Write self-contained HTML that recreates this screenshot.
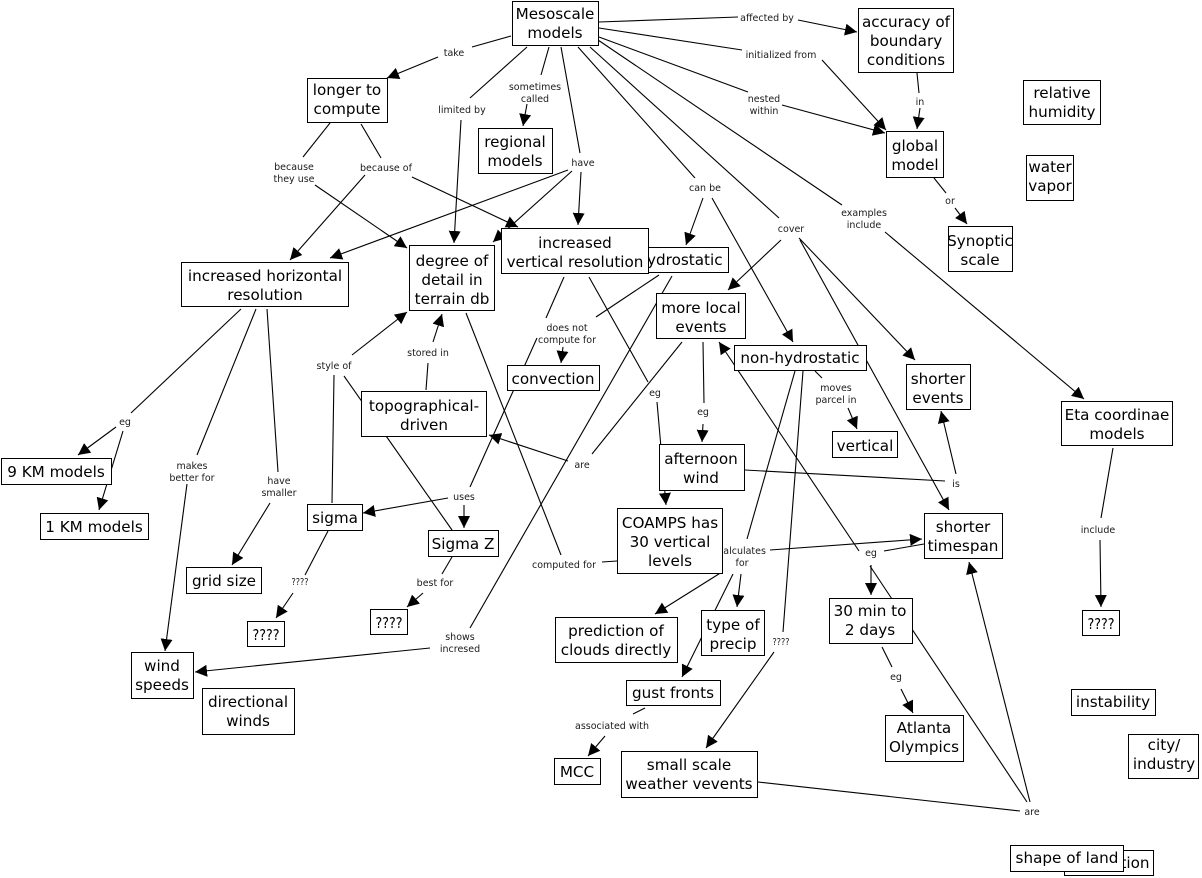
<!DOCTYPE html>
<html><head><meta charset="utf-8"><style>
html,body{margin:0;padding:0;background:#fff}
svg{display:block}
.l line,line{stroke:#000;stroke-width:1.1;fill:none}
.a{marker-end:url(#h)}
rect{fill:#fff;stroke:#000;stroke-width:1.2;shape-rendering:crispEdges}
text{font-family:"DejaVu Sans","Liberation Sans",sans-serif;text-anchor:middle;fill:#000}
.n text{font-size:15.2px}
.t text{font-size:9.5px;fill:#1a1a1a}
</style></head><body>
<svg width="1202" height="878" viewBox="0 0 1202 878" xmlns="http://www.w3.org/2000/svg">
<defs><marker id="h" markerUnits="userSpaceOnUse" markerWidth="12" markerHeight="12" refX="12" refY="6" orient="auto"><path d="M0 0L12 6L0 12z" fill="#000"/></marker></defs>
<g class="l">
<line x1="599" y1="22" x2="738" y2="17"/><line class="a" x1="798" y1="20" x2="857" y2="32"/>
<line x1="599" y1="28" x2="742" y2="50"/><line class="a" x1="822" y1="60" x2="886" y2="130"/>
<line x1="599" y1="37" x2="748" y2="92"/><line class="a" x1="782" y1="105" x2="885" y2="133"/>
<line x1="511" y1="36" x2="472" y2="47"/><line class="a" x1="438" y1="57" x2="387" y2="78"/>
<line x1="527" y1="47" x2="470" y2="98"/><line class="a" x1="461" y1="120" x2="454" y2="243"/>
<line x1="549" y1="47" x2="541" y2="75"/><line class="a" x1="527" y1="104" x2="523" y2="126"/>
<line x1="561" y1="47" x2="580" y2="153"/>
<line class="a" x1="581" y1="172" x2="578" y2="225"/>
<line class="a" x1="568" y1="170" x2="330" y2="258"/>
<line class="a" x1="572" y1="171" x2="493" y2="242"/>
<line class="a" x1="412" y1="177" x2="518" y2="227"/>
<line x1="330" y1="123" x2="303" y2="157"/><line class="a" x1="315" y1="185" x2="407" y2="248"/>
<line x1="361" y1="124" x2="381" y2="158"/><line class="a" x1="365" y1="175" x2="290" y2="260"/>
<line x1="578" y1="47" x2="695" y2="178"/>
<line class="a" x1="703" y1="198" x2="686" y2="245"/><line class="a" x1="712" y1="198" x2="793" y2="342"/>
<line x1="590" y1="47" x2="779" y2="218"/>
<line class="a" x1="781" y1="240" x2="728" y2="290"/><line class="a" x1="799" y1="238" x2="915" y2="360"/><line class="a" x1="800" y1="240" x2="949" y2="510"/>
<line x1="598" y1="40" x2="842" y2="205"/><line class="a" x1="885" y1="232" x2="1084" y2="399"/>
<line x1="917" y1="73" x2="919" y2="93"/><line class="a" x1="920" y1="108" x2="917" y2="129"/>
<line x1="934" y1="178" x2="946" y2="193"/><line class="a" x1="955" y1="208" x2="967" y2="224"/>
<line x1="564" y1="277" x2="546" y2="318"/><line class="a" x1="563" y1="347" x2="561" y2="363"/>
<line x1="659" y1="275" x2="596" y2="317"/>
<line x1="537" y1="338" x2="470" y2="487"/>
<line class="a" x1="448" y1="498" x2="363" y2="513"/><line class="a" x1="464" y1="505" x2="464" y2="528"/>
<line x1="672" y1="276" x2="470" y2="628"/><line class="a" x1="430" y1="648" x2="195" y2="672"/>
<line x1="589" y1="277" x2="648" y2="382"/><line class="a" x1="657" y1="402" x2="666" y2="505"/>
<line x1="682" y1="342" x2="592" y2="454"/><line class="a" x1="568" y1="461" x2="489" y2="435"/>
<line x1="703" y1="342" x2="704" y2="403"/><line class="a" x1="703" y1="424" x2="702" y2="442"/>
<line x1="466" y1="313" x2="561" y2="555"/><line x1="602" y1="562" x2="617" y2="561"/>
<line x1="426" y1="390" x2="428" y2="363"/><line class="a" x1="433" y1="342" x2="442" y2="314"/>
<line x1="332" y1="503" x2="334" y2="375"/><line class="a" x1="352" y1="355" x2="407" y2="312"/><line x1="344" y1="376" x2="452" y2="530"/>
<line x1="241" y1="309" x2="131" y2="413"/><line class="a" x1="116" y1="427" x2="78" y2="455"/><line class="a" x1="123" y1="431" x2="99" y2="510"/>
<line x1="256" y1="309" x2="197" y2="455"/><line class="a" x1="187" y1="484" x2="165" y2="651"/>
<line x1="267" y1="309" x2="278" y2="472"/><line class="a" x1="270" y1="503" x2="232" y2="565"/>
<line x1="328" y1="531" x2="305" y2="575"/><line class="a" x1="293" y1="593" x2="276" y2="618"/>
<line x1="452" y1="557" x2="442" y2="574"/><line class="a" x1="423" y1="593" x2="407" y2="607"/>
<line x1="815" y1="371" x2="822" y2="378"/><line class="a" x1="848" y1="408" x2="857" y2="429"/>
<line x1="795" y1="371" x2="747" y2="539"/>
<line x1="803" y1="371" x2="783" y2="632"/><line class="a" x1="774" y1="652" x2="706" y2="748"/>
<line class="a" x1="770" y1="550" x2="922" y2="539"/><line x1="884" y1="551" x2="924" y2="544"/>
<line class="a" x1="722" y1="572" x2="655" y2="614"/>
<line class="a" x1="741" y1="574" x2="737" y2="607"/>
<line class="a" x1="733" y1="574" x2="682" y2="677"/>
<line x1="645" y1="708" x2="633" y2="714"/><line class="a" x1="605" y1="736" x2="588" y2="756"/>
<line x1="745" y1="470" x2="945" y2="481"/><line class="a" x1="956" y1="474" x2="941" y2="411"/>
<line class="a" x1="871" y1="565" x2="871" y2="595"/>
<line x1="758" y1="782" x2="1020" y2="811"/>
<line class="a" x1="1030" y1="802" x2="969" y2="562"/>
<line x1="1027" y1="802" x2="870" y2="566"/><line class="a" x1="859" y1="551" x2="719" y2="342"/>
<line x1="1113" y1="448" x2="1101" y2="518"/><line class="a" x1="1100" y1="540" x2="1101" y2="607"/>
<line x1="882" y1="647" x2="892" y2="667"/><line class="a" x1="901" y1="689" x2="913" y2="713"/>
</g>
<g class="t">
<text x="767" y="21">affected by</text>
<text x="781" y="58">initialized from</text>
<text x="764" y="102">nested</text><text x="764" y="114">within</text>
<text x="454" y="56">take</text>
<text x="462" y="113">limited by</text>
<text x="535" y="90">sometimes</text><text x="535" y="102">called</text>
<text x="583" y="166">have</text>
<text x="294" y="170">because</text><text x="294" y="182">they use</text>
<text x="386" y="171">because of</text>
<text x="705" y="191">can be</text>
<text x="791" y="232">cover</text>
<text x="864" y="216">examples</text><text x="864" y="228">include</text>
<text x="920" y="105">in</text>
<text x="950" y="204">or</text>
<text x="567" y="331">does not</text><text x="567" y="343">compute for</text>
<text x="428" y="356">stored in</text>
<text x="334" y="369">style of</text>
<text x="125" y="425">eg</text>
<text x="655" y="396">eg</text>
<text x="703" y="415">eg</text>
<text x="582" y="468">are</text>
<text x="956" y="487">is</text>
<text x="836" y="391">moves</text><text x="836" y="403">parcel in</text>
<text x="192" y="469">makes</text><text x="192" y="481">better for</text>
<text x="279" y="484">have</text><text x="279" y="496">smaller</text>
<text x="464" y="500">uses</text>
<text x="300" y="585" textLength="17" lengthAdjust="spacingAndGlyphs">????</text>
<text x="435" y="586">best for</text>
<text x="1098" y="533">include</text>
<text x="564" y="568">computed for</text>
<text x="742" y="554">calculates</text><text x="742" y="566">for</text>
<text x="871" y="556">eg</text>
<text x="781" y="645" textLength="17" lengthAdjust="spacingAndGlyphs">????</text>
<text x="460" y="640">shows</text><text x="460" y="652">incresed</text>
<text x="612" y="729">associated with</text>
<text x="896" y="680">eg</text>
<text x="1032" y="815">are</text>
</g>
<g class="n">
<rect x="512.5" y="1.5" width="86" height="44"/><text x="555" y="19">Mesoscale</text><text x="555" y="38">models</text>
<rect x="858.5" y="8.5" width="95" height="64"/><text x="906" y="27">accuracy of</text><text x="906" y="46">boundary</text><text x="906" y="65">conditions</text>
<rect x="1023.5" y="80.5" width="77" height="44"/><text x="1062" y="98">relative</text><text x="1062" y="117">humidity</text>
<rect x="307.5" y="78.5" width="80" height="44"/><text x="347" y="95">longer to</text><text x="347" y="114">compute</text>
<rect x="478.5" y="128.5" width="74" height="45"/><text x="515" y="147">regional</text><text x="515" y="166">models</text>
<rect x="886.5" y="131.5" width="57" height="46"/><text x="915" y="151">global</text><text x="915" y="170">model</text>
<rect x="1026.5" y="155.5" width="47" height="45"/><text x="1050" y="172">water</text><text x="1050" y="191">vapor</text>
<rect x="948.5" y="226.5" width="64" height="45"/><text x="980" y="246">Synoptic</text><text x="980" y="265">scale</text>
<rect x="633.5" y="247.5" width="95" height="25"/><text x="680" y="265">hydrostatic</text>
<rect x="501.5" y="228.5" width="147" height="45"/><text x="575" y="248">increased</text><text x="575" y="267">vertical resolution</text>
<rect x="409.5" y="245.5" width="85" height="65"/><text x="452" y="266">degree of</text><text x="452" y="285">detail in</text><text x="452" y="304">terrain db</text>
<rect x="181.5" y="262.5" width="167" height="44"/><text x="265" y="281">increased horizontal</text><text x="265" y="300">resolution</text>
<rect x="656.5" y="293.5" width="89" height="45"/><text x="701" y="313">more local</text><text x="701" y="332">events</text>
<rect x="507.5" y="365.5" width="92" height="25"/><text x="553" y="384">convection</text>
<rect x="734.5" y="345.5" width="132" height="25"/><text x="800" y="363">non-hydrostatic</text>
<rect x="906.5" y="364.5" width="64" height="45"/><text x="938" y="384">shorter</text><text x="938" y="403">events</text>
<rect x="361.5" y="391.5" width="125" height="45"/><text x="424" y="411">topographical-</text><text x="424" y="430">driven</text>
<rect x="832.5" y="431.5" width="65" height="26"/><text x="865" y="451">vertical</text>
<rect x="1061.5" y="401.5" width="111" height="44"/><text x="1117" y="420">Eta coordinae</text><text x="1117" y="439">models</text>
<rect x="659.5" y="444.5" width="85" height="46"/><text x="701" y="464">afternoon</text><text x="701" y="483">wind</text>
<rect x="1.5" y="458.5" width="110" height="26"/><text x="56" y="477">9 KM models</text>
<rect x="40.5" y="513.5" width="108" height="26"/><text x="94" y="532">1 KM models</text>
<rect x="307.5" y="504.5" width="55" height="26"/><text x="335" y="523">sigma</text>
<rect x="617.5" y="508.5" width="105" height="65"/><text x="670" y="528">COAMPS has</text><text x="670" y="547">30 vertical</text><text x="670" y="566">levels</text>
<rect x="428.5" y="530.5" width="70" height="26"/><text x="463" y="549">Sigma Z</text>
<rect x="924.5" y="513.5" width="78" height="45"/><text x="963" y="532">shorter</text><text x="963" y="551">timespan</text>
<rect x="186.5" y="567.5" width="75" height="26"/><text x="224" y="586">grid size</text>
<rect x="247.5" y="621.5" width="37" height="25"/><text x="266" y="640" textLength="27" lengthAdjust="spacingAndGlyphs">????</text>
<rect x="370.5" y="609.5" width="37" height="25"/><text x="389" y="628" textLength="27" lengthAdjust="spacingAndGlyphs">????</text>
<rect x="1082.5" y="610.5" width="37" height="25"/><text x="1101" y="629" textLength="27" lengthAdjust="spacingAndGlyphs">????</text>
<rect x="829.5" y="598.5" width="83" height="45"/><text x="870" y="616">30 min to</text><text x="870" y="635">2 days</text>
<rect x="555.5" y="617.5" width="122" height="45"/><text x="616" y="636">prediction of</text><text x="616" y="655">clouds directly</text>
<rect x="701.5" y="610.5" width="63" height="45"/><text x="733" y="630">type of</text><text x="733" y="649">precip</text>
<rect x="131.5" y="652.5" width="62" height="46"/><text x="162" y="671">wind</text><text x="162" y="690">speeds</text>
<rect x="202.5" y="688.5" width="92" height="46"/><text x="248" y="707">directional</text><text x="248" y="726">winds</text>
<rect x="626.5" y="680.5" width="94" height="25"/><text x="673" y="698">gust fronts</text>
<rect x="1071.5" y="689.5" width="84" height="26"/><text x="1113" y="707">instability</text>
<rect x="885.5" y="715.5" width="78" height="46"/><text x="924" y="733">Atlanta</text><text x="924" y="752">Olympics</text>
<rect x="1128.5" y="734.5" width="70" height="44"/><text x="1164" y="750">city/</text><text x="1164" y="769">industry</text>
<rect x="554.5" y="758.5" width="46" height="26"/><text x="577" y="777">MCC</text>
<rect x="621.5" y="751.5" width="136" height="46"/><text x="689" y="770">small scale</text><text x="689" y="789">weather vevents</text>
<rect x="1064.5" y="850.5" width="89" height="25"/><text x="1108" y="868">orientation</text>
<rect x="1010.5" y="845.5" width="113" height="26"/><text x="1067" y="863">shape of land</text>
</g>
</svg>
</body></html>
